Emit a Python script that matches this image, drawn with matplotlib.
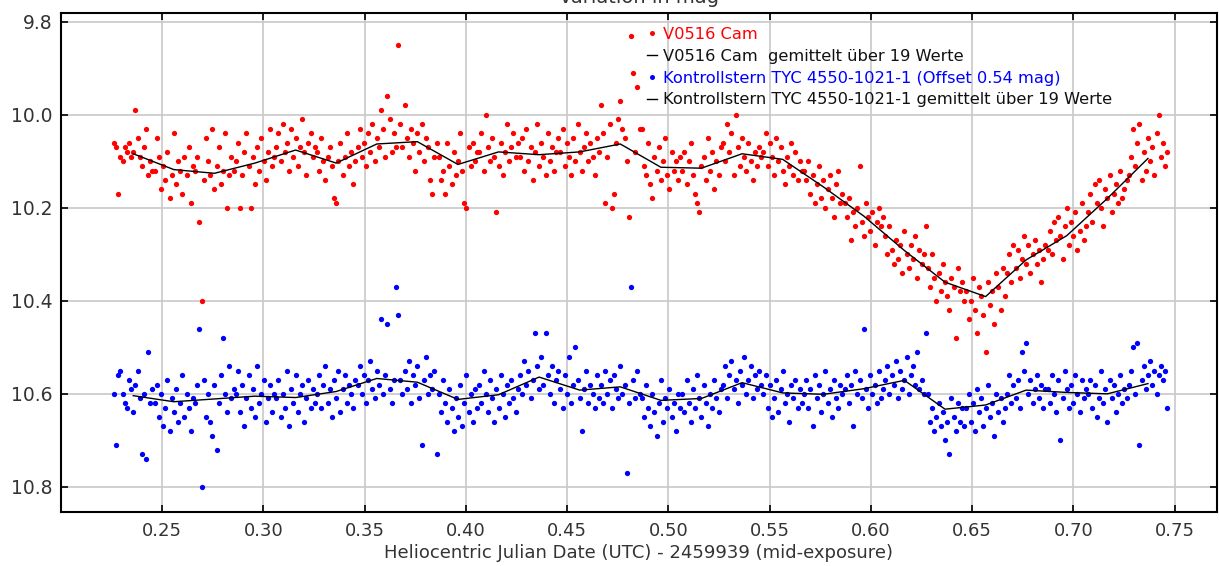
import numpy as np
import matplotlib
matplotlib.use('Agg')
import matplotlib.pyplot as plt
from matplotlib.lines import Line2D

# observation times: start (HJD - 2459939) and cadence (d)
t_start = 0.2262
cadence = 0.001055

# V0516 Cam magnitudes, one row per 19-point block
v0516 = [
    10.06, 10.07, 10.17, 10.09, 10.10, 10.07, 10.08, 10.06, 10.09, 10.08, 9.99, 10.05, 10.09, 10.11, 10.07, 10.03, 10.13, 10.10, 10.12,
    10.12, 10.05, 10.09, 10.16, 10.11, 10.14, 10.08, 10.18, 10.13, 10.04, 10.15, 10.10, 10.12, 10.17, 10.09, 10.13, 10.07, 10.19, 10.11,
    10.12, 10.09, 10.23, 10.40, 10.14, 10.05, 10.10, 10.13, 10.03, 10.16, 10.11, 10.07, 10.15, 10.12, 10.04, 10.20, 10.13, 10.09, 10.12,
    10.10, 10.06, 10.20, 10.13, 10.08, 10.04, 10.11, 10.20, 10.09, 10.15, 10.07, 10.12, 10.05, 10.10, 10.14, 10.08, 10.03, 10.11, 10.09,
    10.07, 10.04, 10.10, 10.02, 10.08, 10.06, 10.12, 10.03, 10.09, 10.05, 10.11, 10.07, 10.01, 10.08, 10.13, 10.06, 10.04, 10.09, 10.07,
    10.08, 10.12, 10.05, 10.10, 10.14, 10.09, 10.07, 10.11, 10.18, 10.19, 10.10, 10.06, 10.13, 10.09, 10.04, 10.11, 10.08, 10.15, 10.10,
    10.07, 10.03, 10.09, 10.06, 10.11, 10.04, 10.08, 10.02, 10.10, 10.05, 10.07, 9.99, 10.03, 10.09, 9.96, 10.01, 10.08, 10.04, 10.07,
    9.85, 10.02, 10.07, 9.98, 10.05, 10.09, 10.03, 10.06, 10.12, 10.04, 10.08, 10.02, 10.10, 10.05, 10.07, 10.14, 10.17, 10.09, 10.06,
    10.09, 10.14, 10.12, 10.17, 10.06, 10.11, 10.15, 10.08, 10.13, 10.10, 10.04, 10.12, 10.19, 10.20, 10.07, 10.11, 10.06, 10.10, 10.08,
    10.08, 10.04, 10.12, 10.00, 10.07, 10.10, 10.05, 10.09, 10.21, 10.11, 10.06, 10.13, 10.08, 10.02, 10.10, 10.07, 10.04, 10.09, 10.06,
    10.09, 10.05, 10.12, 10.03, 10.10, 10.07, 10.14, 10.08, 10.02, 10.11, 10.06, 10.09, 10.13, 10.04, 10.10, 10.07, 10.12, 10.08, 10.05,
    10.08, 10.03, 10.11, 10.06, 10.09, 10.13, 10.05, 10.10, 10.02, 10.08, 10.12, 10.07, 10.04, 10.10, 10.06, 10.09, 10.13, 10.05, 10.08,
    9.98, 10.04, 10.19, 10.09, 10.02, 10.20, 10.17, 10.06, 10.01, 9.97, 10.03, 10.05, 10.10, 10.22, 9.83, 9.91, 10.08, 9.94, 10.03,
    10.03, 10.11, 10.13, 10.06, 10.15, 10.18, 10.09, 10.12, 10.07, 10.14, 10.10, 10.05, 10.13, 10.16, 10.08, 10.12, 10.10, 10.14, 10.09,
    10.12, 10.08, 10.15, 10.10, 10.06, 10.13, 10.17, 10.19, 10.21, 10.11, 10.09, 10.14, 10.05, 10.12, 10.08, 10.16, 10.10, 10.13, 10.07,
    10.06, 10.10, 10.02, 10.08, 10.04, 10.13, 10.00, 10.07, 10.11, 10.05, 10.09, 10.12, 10.06, 10.10, 10.14, 10.08, 10.11, 10.07, 10.09,
    10.08, 10.04, 10.11, 10.06, 10.09, 10.13, 10.05, 10.10, 10.07, 10.12, 10.15, 10.09, 10.11, 10.06, 10.13, 10.08, 10.14, 10.10, 10.12,
    10.12, 10.14, 10.10, 10.17, 10.13, 10.19, 10.15, 10.11, 10.18, 10.14, 10.20, 10.16, 10.13, 10.18, 10.22, 10.15, 10.12, 10.19, 10.17,
    10.19, 10.22, 10.18, 10.27, 10.21, 10.24, 10.20, 10.11, 10.23, 10.26, 10.19, 10.22, 10.25, 10.21, 10.28, 10.23, 10.20, 10.24, 10.22,
    10.26, 10.30, 10.24, 10.29, 10.32, 10.27, 10.31, 10.28, 10.34, 10.25, 10.30, 10.33, 10.28, 10.31, 10.26, 10.35, 10.29, 10.32, 10.30,
    10.24, 10.33, 10.37, 10.30, 10.35, 10.40, 10.34, 10.38, 10.32, 10.36, 10.39, 10.42, 10.35, 10.37, 10.48, 10.33, 10.38, 10.36, 10.40,
    10.38, 10.44, 10.40, 10.35, 10.42, 10.47, 10.37, 10.39, 10.43, 10.51, 10.36, 10.41, 10.38, 10.45, 10.34, 10.37, 10.42, 10.33, 10.39,
    10.34, 10.30, 10.36, 10.28, 10.33, 10.29, 10.35, 10.31, 10.26, 10.32, 10.28, 10.34, 10.30, 10.27, 10.32, 10.29, 10.36, 10.31, 10.28,
    10.29, 10.25, 10.30, 10.23, 10.27, 10.22, 10.26, 10.31, 10.24, 10.20, 10.28, 10.23, 10.26, 10.21, 10.29, 10.25, 10.19, 10.27, 10.24,
    10.21, 10.17, 10.23, 10.15, 10.19, 10.14, 10.20, 10.24, 10.16, 10.18, 10.13, 10.21, 10.17, 10.15, 10.19, 10.12, 10.18, 10.16, 10.14,
    10.13, 10.09, 10.03, 10.11, 10.06, 10.02, 10.14, 10.08, 10.12, 10.05, 10.10, 10.07, 10.13, 10.04, 10.00, 10.09, 10.06, 10.11, 10.08,
]

# comparison star (already shifted by 0.54 mag)
check = [
    10.60, 10.71, 10.56, 10.55, 10.60, 10.62, 10.63, 10.57, 10.59, 10.64, 10.58, 10.55, 10.61, 10.73, 10.60, 10.74, 10.51, 10.62, 10.59,
    10.62, 10.58, 10.65, 10.60, 10.67, 10.63, 10.57, 10.68, 10.61, 10.64, 10.59, 10.66, 10.62, 10.56, 10.65, 10.60, 10.63, 10.68, 10.61,
    10.62, 10.58, 10.46, 10.80, 10.57, 10.65, 10.60, 10.66, 10.69, 10.58, 10.72, 10.62, 10.56, 10.48, 10.60, 10.64, 10.54, 10.61, 10.59,
    10.60, 10.55, 10.64, 10.58, 10.67, 10.61, 10.56, 10.63, 10.59, 10.65, 10.54, 10.62, 10.60, 10.57, 10.66, 10.61, 10.58, 10.64, 10.60,
    10.61, 10.57, 10.65, 10.60, 10.63, 10.55, 10.67, 10.59, 10.62, 10.56, 10.64, 10.60, 10.58, 10.66, 10.61, 10.57, 10.63, 10.59, 10.62,
    10.60, 10.56, 10.63, 10.58, 10.54, 10.62, 10.59, 10.65, 10.57, 10.61, 10.55, 10.64, 10.59, 10.56, 10.62, 10.58, 10.60, 10.63, 10.57,
    10.58, 10.54, 10.60, 10.56, 10.62, 10.57, 10.53, 10.59, 10.61, 10.55, 10.58, 10.44, 10.60, 10.56, 10.45, 10.59, 10.62, 10.57, 10.37,
    10.43, 10.57, 10.60, 10.55, 10.59, 10.53, 10.62, 10.56, 10.58, 10.54, 10.61, 10.71, 10.57, 10.52, 10.60, 10.56, 10.59, 10.55, 10.73,
    10.60, 10.64, 10.57, 10.62, 10.66, 10.59, 10.63, 10.68, 10.61, 10.65, 10.58, 10.67, 10.62, 10.56, 10.64, 10.60, 10.66, 10.59, 10.63,
    10.58, 10.62, 10.55, 10.60, 10.64, 10.57, 10.61, 10.66, 10.59, 10.63, 10.56, 10.60, 10.65, 10.58, 10.62, 10.57, 10.61, 10.64, 10.59,
    10.56, 10.60, 10.53, 10.58, 10.55, 10.61, 10.57, 10.47, 10.54, 10.59, 10.52, 10.58, 10.47, 10.56, 10.60, 10.54, 10.62, 10.57, 10.55,
    10.59, 10.63, 10.56, 10.60, 10.52, 10.62, 10.58, 10.50, 10.57, 10.61, 10.68, 10.59, 10.55, 10.62, 10.58, 10.60, 10.63, 10.56, 10.61,
    10.58, 10.62, 10.55, 10.60, 10.57, 10.63, 10.56, 10.59, 10.61, 10.54, 10.60, 10.58, 10.77, 10.62, 10.37, 10.57, 10.61, 10.55, 10.60,
    10.61, 10.65, 10.58, 10.63, 10.67, 10.60, 10.64, 10.69, 10.62, 10.57, 10.66, 10.61, 10.63, 10.59, 10.65, 10.62, 10.68, 10.60, 10.63,
    10.60, 10.64, 10.57, 10.62, 10.66, 10.59, 10.63, 10.56, 10.61, 10.65, 10.58, 10.62, 10.67, 10.60, 10.63, 10.57, 10.61, 10.64, 10.59,
    10.58, 10.54, 10.61, 10.56, 10.53, 10.59, 10.57, 10.62, 10.55, 10.58, 10.52, 10.60, 10.57, 10.54, 10.61, 10.56, 10.59, 10.55, 10.58,
    10.60, 10.56, 10.63, 10.58, 10.65, 10.61, 10.57, 10.64, 10.59, 10.55, 10.62, 10.60, 10.66, 10.58, 10.61, 10.57, 10.63, 10.59, 10.62,
    10.60, 10.57, 10.63, 10.59, 10.67, 10.56, 10.61, 10.58, 10.64, 10.60, 10.55, 10.62, 10.59, 10.65, 10.57, 10.61, 10.63, 10.58, 10.60,
    10.59, 10.56, 10.62, 10.58, 10.67, 10.55, 10.60, 10.57, 10.61, 10.46, 10.59, 10.63, 10.56, 10.60, 10.58, 10.62, 10.55, 10.61, 10.59,
    10.57, 10.54, 10.60, 10.56, 10.58, 10.53, 10.61, 10.55, 10.59, 10.57, 10.52, 10.60, 10.56, 10.54, 10.58, 10.51, 10.59, 10.57, 10.60,
    10.47, 10.60, 10.66, 10.63, 10.68, 10.65, 10.62, 10.67, 10.64, 10.70, 10.66, 10.73, 10.61, 10.65, 10.68, 10.62, 10.66, 10.63, 10.67,
    10.63, 10.60, 10.66, 10.62, 10.68, 10.59, 10.64, 10.61, 10.67, 10.63, 10.58, 10.65, 10.62, 10.69, 10.60, 10.64, 10.61, 10.66, 10.63,
    10.60, 10.56, 10.62, 10.58, 10.61, 10.57, 10.63, 10.51, 10.55, 10.49, 10.60, 10.57, 10.62, 10.59, 10.56, 10.61, 10.58, 10.63, 10.59,
    10.59, 10.62, 10.56, 10.60, 10.64, 10.57, 10.70, 10.61, 10.55, 10.59, 10.63, 10.58, 10.62, 10.56, 10.60, 10.64, 10.57, 10.61, 10.59,
    10.60, 10.57, 10.63, 10.58, 10.65, 10.61, 10.55, 10.62, 10.59, 10.66, 10.57, 10.61, 10.58, 10.64, 10.60, 10.56, 10.62, 10.59, 10.61,
    10.58, 10.55, 10.50, 10.60, 10.49, 10.71, 10.57, 10.54, 10.59, 10.56, 10.53, 10.58, 10.55, 10.60, 10.56, 10.54, 10.57, 10.55, 10.63,
]

# block means over 19 values (as drawn)
v0516_mean = [10.084, 10.118, 10.126, 10.104, 10.076, 10.104, 10.063, 10.058, 10.107, 10.080,
              10.086, 10.080, 10.063, 10.113, 10.115, 10.084, 10.096, 10.155, 10.218, 10.292,
              10.360, 10.391, 10.312, 10.260, 10.180, 10.094]
check_mean = [10.604, 10.617, 10.611, 10.605, 10.608, 10.595, 10.567, 10.575, 10.612, 10.602,
              10.564, 10.592, 10.585, 10.614, 10.610, 10.576, 10.598, 10.601, 10.589, 10.571,
              10.633, 10.624, 10.592, 10.597, 10.600, 10.578]
block = 19

t = t_start + cadence * np.arange(len(v0516))
t_mean = t.reshape(-1, block).mean(axis=1)

plt.rcParams['font.family'] = ['DejaVu Sans']

fig = plt.figure(figsize=(12.19, 5.66), dpi=100)
ax = fig.add_axes([0.050, 0.0954, 0.948, 0.882])

ax.plot(t, v0516, 'o', color='#ff0000', ms=3.8, mew=0, zorder=3)
ax.plot(t_mean, v0516_mean, '-', color='black', lw=1.0, zorder=4)
ax.plot(t, check, 'o', color='#0000ff', ms=3.8, mew=0, zorder=3)
ax.plot(t_mean, check_mean, '-', color='black', lw=1.0, zorder=4)

ax.set_xlim(0.2, 0.7707)
ax.set_ylim(10.854, 9.781)
ax.set_xticks(np.arange(0.25, 0.751, 0.05))
ax.set_yticks([9.8, 10.0, 10.2, 10.4, 10.6, 10.8])
ax.xaxis.set_major_formatter(matplotlib.ticker.FormatStrFormatter('%.2f'))
ax.yaxis.set_major_formatter(matplotlib.ticker.FormatStrFormatter('%.1f'))
ax.grid(True, color='#c8c8c8', lw=1.2)
ax.set_axisbelow(True)
ax.tick_params(direction='in', top=True, right=True, length=5, width=1.2,
               colors='black', labelcolor='#333333')
ax.tick_params(axis='y', labelsize=13.5, pad=6)
ax.tick_params(axis='x', labelsize=13, pad=7)
for s in ax.spines.values():
    s.set_linewidth(1.5)

ax.set_xlabel('Heliocentric Julian Date (UTC) - 2459939 (mid-exposure)',
              fontsize=13, color='#333333', labelpad=3)
ax.set_title('Variation in mag', fontsize=14, color='#333333', pad=7)

handles = [
    Line2D([], [], ls='none', marker='o', color='#ff0000', ms=3.6, mew=0),
    Line2D([], [], color='black', lw=1.0),
    Line2D([], [], ls='none', marker='o', color='#0000ff', ms=3.6, mew=0),
    Line2D([], [], color='black', lw=1.0),
]
labels = ['V0516 Cam',
          'V0516 Cam  gemittelt über 19 Werte',
          'Kontrollstern TYC 4550-1021-1 (Offset 0.54 mag)',
          'Kontrollstern TYC 4550-1021-1 gemittelt über 19 Werte']
leg = ax.legend(handles, labels, loc='upper left', bbox_to_anchor=(0.500, 0.988),
                frameon=False, fontsize=11.7, handlelength=0.6, handletextpad=0.4,
                borderpad=0, labelspacing=0.42)
for txt, c in zip(leg.get_texts(), ['#ff0000', '#111111', '#0000ff', '#111111']):
    txt.set_color(c)

fig.savefig('out.png', dpi=100)
